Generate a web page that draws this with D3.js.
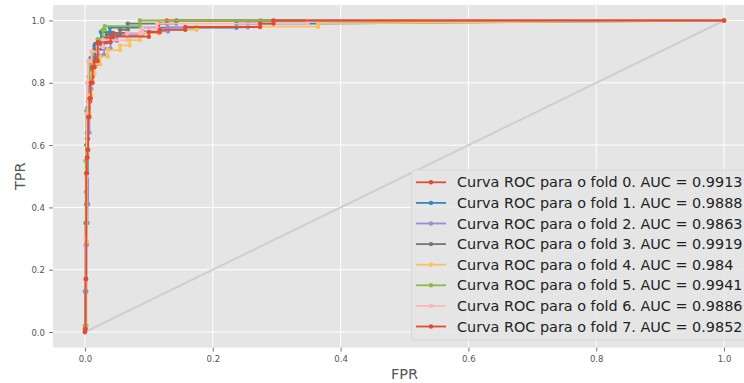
<!DOCTYPE html>
<html>
<head>
<meta charset="utf-8">
<script src="https://cdn.jsdelivr.net/npm/d3@7"></script>
<style>
  html, body { margin: 0; padding: 0; background: #ffffff; }
  svg { display: block; }
</style>
</head>
<body>
<svg id="chart" width="744" height="383"></svg>
<script>
// ---- data ----
const foldLabels = ["Curva ROC para o fold 0", "Curva ROC para o fold 1", "Curva ROC para o fold 2",
  "Curva ROC para o fold 3", "Curva ROC para o fold 4", "Curva ROC para o fold 5",
  "Curva ROC para o fold 6", "Curva ROC para o fold 7"];
const aucValues = ["0.9913", "0.9888", "0.9863", "0.9919", "0.984", "0.9941", "0.9886", "0.9852"];

const fold0Fpr = [0,0,0.002,0.002,0.003,0.003,0.005,0.005,0.008,0.008,0.012,0.012,0.016,0.016,0.028,0.028,0.044,0.044,0.116,0.116,0.128,0.128,1];
const fold0Tpr = [0,0.02,0.02,0.45,0.45,0.62,0.62,0.74,0.74,0.82,0.82,0.88,0.88,0.925,0.925,0.945,0.945,0.96,0.96,0.99,0.99,1,1];

const fold1Fpr = [0,0,0.002,0.002,0.003,0.003,0.004,0.004,0.006,0.006,0.009,0.009,0.015,0.015,0.025,0.025,0.039,0.039,0.237,0.237,0.365,1];
const fold1Tpr = [0,0.13,0.13,0.41,0.41,0.64,0.64,0.72,0.72,0.82,0.82,0.88,0.88,0.92,0.92,0.963,0.963,0.977,0.977,0.99,0.99,1];

const fold2Fpr = [0,0,0.001,0.001,0.003,0.003,0.004,0.004,0.005,0.005,0.007,0.007,0.01,0.01,0.02,0.02,0.03,0.03,0.04,0.04,0.05,0.05,0.09,0.09,0.13,0.13,0.255,0.255,0.275,0.275,1];
const fold2Tpr = [0,0.13,0.13,0.28,0.28,0.35,0.35,0.41,0.41,0.64,0.64,0.78,0.78,0.86,0.86,0.89,0.89,0.91,0.91,0.935,0.935,0.953,0.953,0.965,0.965,0.978,0.978,0.99,0.99,1,1];

const fold3Fpr = [0,0,0.001,0.001,0.002,0.002,0.003,0.003,0.005,0.005,0.008,0.008,0.015,0.015,0.025,0.025,0.034,0.034,0.055,0.055,0.067,0.067,0.143,0.143,1];
const fold3Tpr = [0,0.01,0.01,0.35,0.35,0.6,0.6,0.7,0.7,0.8,0.8,0.87,0.87,0.91,0.91,0.93,0.93,0.955,0.955,0.97,0.97,0.99,0.99,1,1];

const fold4Fpr = [0,0,0.002,0.002,0.003,0.003,0.005,0.005,0.007,0.007,0.01,0.01,0.015,0.015,0.024,0.024,0.036,0.036,0.055,0.055,0.07,0.07,0.086,0.086,0.117,0.117,0.175,0.175,0.365,0.365,1];
const fold4Tpr = [0,0.02,0.02,0.29,0.29,0.58,0.58,0.7,0.7,0.76,0.76,0.83,0.83,0.86,0.86,0.884,0.884,0.905,0.905,0.92,0.92,0.937,0.937,0.96,0.96,0.97,0.97,0.98,0.98,0.99,1];

const fold5Fpr = [0,0,0.001,0.001,0.002,0.002,0.004,0.004,0.007,0.007,0.012,0.012,0.02,0.02,0.028,0.028,0.031,0.031,0.086,0.086,1];
const fold5Tpr = [0,0.02,0.02,0.55,0.55,0.71,0.71,0.8,0.8,0.86,0.86,0.9,0.9,0.94,0.94,0.97,0.97,0.982,0.982,1,1];

const fold6Fpr = [0,0,0.001,0.001,0.002,0.002,0.003,0.003,0.004,0.004,0.005,0.005,0.01,0.01,0.02,0.02,0.028,0.028,0.066,0.066,0.09,0.09,0.113,0.113,0.348,0.348,1];
const fold6Tpr = [0,0.01,0.01,0.3,0.3,0.5,0.5,0.7,0.7,0.8,0.8,0.87,0.87,0.9,0.9,0.915,0.915,0.937,0.937,0.96,0.96,0.975,0.975,0.99,0.99,1,1];

const fold7Fpr = [0,0,0.001,0.001,0.002,0.002,0.003,0.003,0.004,0.004,0.005,0.005,0.007,0.007,0.009,0.009,0.012,0.012,0.015,0.015,0.02,0.02,0.04,0.04,0.1,0.1,0.117,0.117,0.157,0.157,0.274,0.274,0.295,0.295,1];
const fold7Tpr = [0,0.01,0.01,0.17,0.17,0.51,0.51,0.56,0.56,0.585,0.585,0.69,0.69,0.75,0.75,0.8,0.8,0.85,0.85,0.87,0.87,0.93,0.93,0.948,0.948,0.963,0.963,0.97,0.97,0.979,0.979,0.99,0.99,1,1];

const chanceFpr = [0, 1];
const chanceTpr = [0, 1];

const tickValues = [0, 0.2, 0.4, 0.6, 0.8, 1.0];
const tickLabels = ["0.0", "0.2", "0.4", "0.6", "0.8", "1.0"];

// ---- style ----
const palette = ["#E24A33", "#348ABD", "#988ED5", "#777777", "#FBC15E", "#8EBA42", "#FFB5B8", "#E24A33"];

const foldFpr = [fold0Fpr, fold1Fpr, fold2Fpr, fold3Fpr, fold4Fpr, fold5Fpr, fold6Fpr, fold7Fpr];
const foldTpr = [fold0Tpr, fold1Tpr, fold2Tpr, fold3Tpr, fold4Tpr, fold5Tpr, fold6Tpr, fold7Tpr];

const svg = d3.select("#chart");
const plot = { left: 53, right: 756, top: 4.9, bottom: 347.6 };

const x = d3.scaleLinear().domain([-0.05, 1.05]).range([plot.left, plot.right]);
const y = d3.scaleLinear().domain([-0.05, 1.05]).range([plot.bottom, plot.top]);

// background
svg.append("rect")
  .attr("x", plot.left).attr("y", plot.top)
  .attr("width", plot.right - plot.left).attr("height", plot.bottom - plot.top)
  .attr("fill", "#E5E5E5");

// grid
const grid = svg.append("g");
grid.selectAll("line.gx").data(tickValues).join("line")
  .attr("x1", d => x(d)).attr("x2", d => x(d))
  .attr("y1", plot.top).attr("y2", plot.bottom)
  .attr("stroke", "#ffffff").attr("stroke-width", 1);
grid.selectAll("line.gy").data(tickValues).join("line")
  .attr("class", "gy")
  .attr("y1", d => y(d)).attr("y2", d => y(d))
  .attr("x1", plot.left).attr("x2", plot.right)
  .attr("stroke", "#ffffff").attr("stroke-width", 1);

// axes
const xAxis = d3.axisBottom(x).tickValues(tickValues)
  .tickFormat((d, i) => tickLabels[i]).tickSize(4).tickPadding(4);
const yAxis = d3.axisLeft(y).tickValues(tickValues)
  .tickFormat((d, i) => tickLabels[i]).tickSize(4).tickPadding(4);

const gx = svg.append("g").attr("transform", `translate(0,${plot.bottom})`).call(xAxis);
const gy = svg.append("g").attr("transform", `translate(${plot.left},0)`).call(yAxis);
[gx, gy].forEach(g => {
  g.select(".domain").remove();
  g.selectAll(".tick line").attr("stroke", "#555555").attr("stroke-width", 0.8);
  g.selectAll(".tick text")
    .attr("fill", "#555555")
    .style("font-family", "'DejaVu Sans Condensed', 'DejaVu Sans', sans-serif")
    .style("font-size", "9.5px");
});

// axis labels
svg.append("text")
  .attr("x", (plot.left + plot.right) / 2).attr("y", 379)
  .attr("text-anchor", "middle")
  .attr("fill", "#555555")
  .style("font-family", "'DejaVu Sans', sans-serif").style("font-size", "14.5px")
  .text("FPR");
svg.append("text")
  .attr("transform", `translate(25,${(plot.top + plot.bottom) / 2}) rotate(-90)`)
  .attr("text-anchor", "middle")
  .attr("fill", "#555555")
  .style("font-family", "'DejaVu Sans', sans-serif").style("font-size", "14.5px")
  .text("TPR");

// chance diagonal
const line = d3.line().x(d => x(d[0])).y(d => y(d[1]));
svg.append("path")
  .datum(d3.zip(chanceFpr, chanceTpr))
  .attr("d", line)
  .attr("fill", "none")
  .attr("stroke", "#cfcfcf")
  .attr("stroke-width", 2);

// ROC curves
const curves = svg.append("g");
foldFpr.forEach((fprArr, i) => {
  const pts = d3.zip(fprArr, foldTpr[i]);
  const g = curves.append("g");
  g.append("path")
    .datum(pts)
    .attr("d", line)
    .attr("fill", "none")
    .attr("stroke", palette[i])
    .attr("stroke-width", 1.8)
    .attr("stroke-linejoin", "round");
  g.selectAll("circle").data(pts).join("circle")
    .attr("cx", d => x(d[0])).attr("cy", d => y(d[1]))
    .attr("r", 2.2)
    .attr("fill", palette[i]);
});

// legend
const legend = svg.append("g");
const lgX = 411.5, lgY = 170, rowH = 20.6;
legend.append("rect")
  .attr("x", lgX).attr("y", lgY)
  .attr("width", 360).attr("height", 170)
  .attr("rx", 3)
  .attr("fill", "#E5E5E5").attr("fill-opacity", 0.85)
  .attr("stroke", "#d8d8d8").attr("stroke-width", 1);
foldLabels.forEach((lab, i) => {
  const cy = lgY + 12.3 + i * rowH;
  legend.append("line")
    .attr("x1", lgX + 4.5).attr("x2", lgX + 34.5)
    .attr("y1", cy).attr("y2", cy)
    .attr("stroke", palette[i]).attr("stroke-width", 1.8);
  legend.append("circle")
    .attr("cx", lgX + 19.5).attr("cy", cy).attr("r", 2.2)
    .attr("fill", palette[i]);
  legend.append("text")
    .attr("x", lgX + 45.5).attr("y", cy)
    .attr("dy", "0.36em")
    .attr("fill", "#222222")
    .style("font-family", "'DejaVu Sans', sans-serif").style("font-size", "14.4px")
    .text(`${lab}. AUC = ${aucValues[i]}`);
});
</script>
</body>
</html>
